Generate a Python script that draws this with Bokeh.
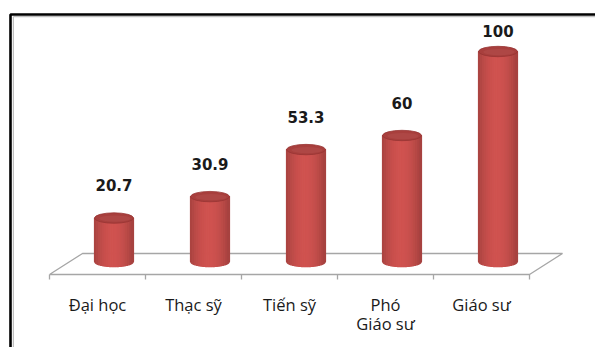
import numpy as np
from bokeh.plotting import figure
from bokeh.models import Range1d
from bokeh.core.properties import value
from bokeh.embed import file_html
from bokeh.resources import INLINE

# Data
categories = ["Đại học", "Thạc sỹ", "Tiến sỹ", "Phó\nGiáo sư", "Giáo sư"]
values = [20.7, 30.9, 53.3, 60, 100]
value_labels = ["20.7", "30.9", "53.3", "60", "100"]

W, H = 595, 347
# pixel scale of the drawing space
PX_PER_CAT = 96.0      # pixels per category along x
PX_PER_UNIT = 2.1      # pixels per value unit along y
X0_PX, Y0_PX = 49.0, 261.0  # where x=0 / y=0 land on the canvas


def X(px):
    return (px - X0_PX) / PX_PER_CAT


def Y(py):
    return (Y0_PX - py) / PX_PER_UNIT


p = figure(width=W, height=H, output_backend="svg", toolbar_location=None,
           x_range=Range1d(X(0), X(W)), y_range=Range1d(Y(H), Y(0)),
           min_border=0, background_fill_color="white", border_fill_color="white")
p.axis.visible = False
p.grid.visible = False
p.outline_line_color = None

n = len(categories)
depth_x = 33 / PX_PER_CAT        # perspective depth of the floor
depth_y = 21 / PX_PER_UNIT
front_y = Y(274)
back_y = front_y + depth_y

# Floor (3D base plane)
floor_col = "#a6a6a6"
p.line([0, depth_x, n + depth_x, n, 0], [front_y, back_y, back_y, front_y, front_y],
       line_color=floor_col, line_width=1.3)
# category-boundary ticks on the front edge
tick_x = np.arange(n + 1)
p.segment(x0=tick_x, y0=np.full(n + 1, front_y), x1=tick_x,
          y1=np.full(n + 1, front_y - 5 / PX_PER_UNIT), line_color=floor_col, line_width=1.3)

# Cylinders
bar_w = 39 / PX_PER_CAT
rx = bar_w / 2
ry = 5.2 / PX_PER_UNIT
base = (206, 82, 79)


def shade(t):
    # darker at both edges, brightest a little left of centre
    f = 0.74 + 0.27 * np.sin(np.pi * np.clip(t * 0.9 + 0.06, 0, 1)) ** 0.8
    r, g, b = [min(255, int(c * f)) for c in base]
    return "#%02x%02x%02x" % (r, g, b)


N = 20
for i, v in enumerate(values):
    xc = i + 0.5 + depth_x / 2
    xs_all, ys_all, cols = [], [], []
    for k in range(N):
        xa = xc - rx + k * bar_w / N
        xb = xc - rx + (k + 1) * bar_w / N
        sub = np.linspace(xa, xb, 4)
        u = np.clip((sub - xc) / rx, -1, 1)
        bottom = -ry * np.sqrt(1 - u ** 2)
        xs_all.append(list(sub) + [xb, xa])
        ys_all.append(list(bottom) + [v, v])
        cols.append(shade((k + 0.5) / N))
    p.patches(xs_all, ys_all, fill_color=cols, line_color=cols, line_width=1.2)
    # top cap
    p.ellipse(x=[xc], y=[v], width=bar_w, height=2 * ry,
              fill_color="#a83f3d", line_color="#983533", line_width=0.8)
    p.ellipse(x=[xc + rx * 0.05], y=[v - ry * 0.1], width=bar_w * 0.8, height=2 * ry * 0.6,
              fill_color="#b4504d", line_color=None, fill_alpha=0.5)

# Value labels above each cylinder, kept inside the frame
label_y = np.minimum(np.array(values) + 33 / PX_PER_UNIT, Y(30))
label_x = np.arange(n) + 0.5 + depth_x / 2
p.text(x=label_x, y=label_y, text=value_labels, text_align="center",
       text_baseline="middle", text_font=value("DejaVu Sans"), text_font_style="bold",
       text_font_size="15px", text_color="#1a1a1a")

# Category labels under the floor
p.text(x=np.arange(n) + 0.5, y=np.full(n, Y(292)), text=categories, text_align="center",
       text_baseline="top", text_font=value("Open Sans"), text_font_size="16.5px",
       text_color="#1a1a1a", text_line_height=0.85)

# Outer frame (left and top edges)
p.line([X(10), X(10), X(W + 5)], [Y(H + 5), Y(14), Y(14)], line_color="black", line_width=2.6)
p.line([X(12.8), X(12.8), X(W + 5)], [Y(H + 5), Y(16.2), Y(16.2)], line_color="#b0b0b0", line_width=1)

open("out.html", "w").write(file_html(p, INLINE))
